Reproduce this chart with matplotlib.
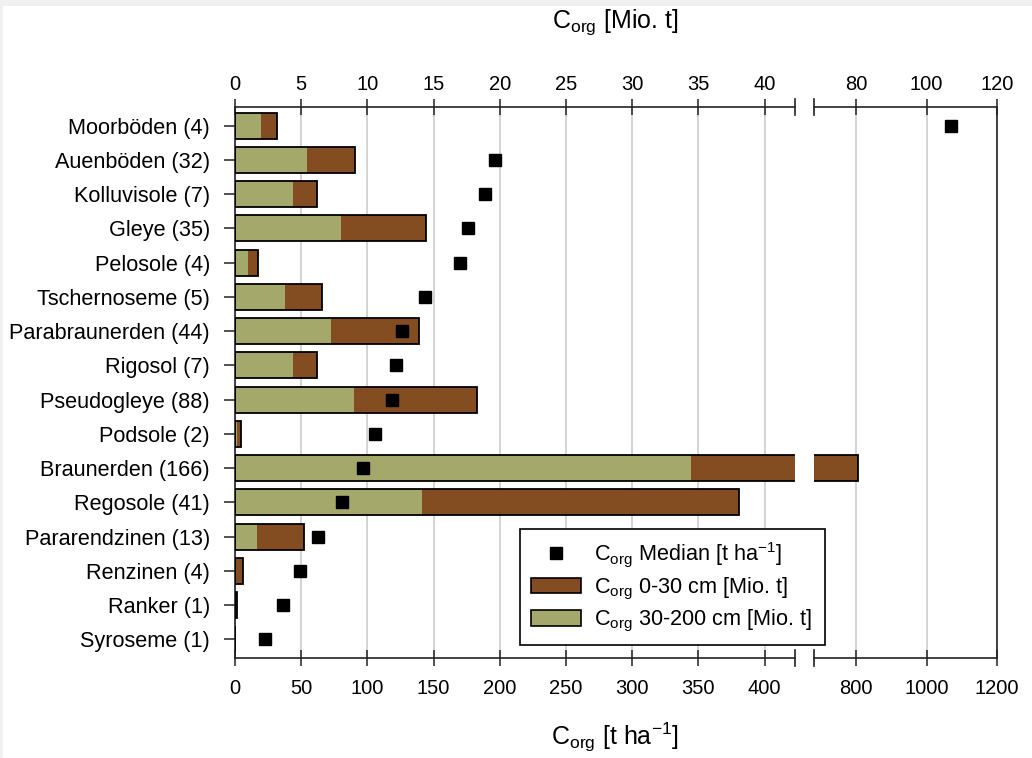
import matplotlib
matplotlib.use("Agg")
import matplotlib.pyplot as plt
from matplotlib.patches import Patch, Rectangle
from matplotlib.lines import Line2D

plt.rcParams['font.family'] = ['Liberation Sans', 'DejaVu Sans']

categories = ['Moorböden (4)', 'Auenböden (32)', 'Kolluvisole (7)', 'Gleye (35)',
              'Pelosole (4)', 'Tschernoseme (5)', 'Parabraunerden (44)', 'Rigosol (7)',
              'Pseudogleye (88)', 'Podsole (2)', 'Braunerden (166)', 'Regosole (41)',
              'Pararendzinen (13)', 'Renzinen (4)', 'Ranker (1)', 'Syroseme (1)']
# C_org 30-200 cm [Mio. t]
c_30_200 = [1.94, 5.44, 4.36, 8.04, 0.96, 3.75, 7.28, 4.36, 8.99, 0.13,
            34.47, 14.1, 1.66, 0.05, 0.05, 0.0]
# C_org 0-30 cm [Mio. t]
c_0_30 = [1.23, 3.61, 1.86, 6.37, 0.75, 2.85, 6.62, 1.86, 9.31, 0.35,
          46.13, 24.0, 3.58, 0.55, 0.10, 0.0]
# C_org median [t/ha]
median = [1068, 196.5, 188.7, 176.1, 170, 143.6, 126.2, 121.4, 118.9, 105.6,
          97, 81.1, 62.7, 49.4, 36, 22.4]

top_ticks_left = [0, 5, 10, 15, 20, 25, 30, 35, 40]
top_ticks_right = [80, 100, 120]
bot_ticks_left = [0, 50, 100, 150, 200, 250, 300, 350, 400]
bot_ticks_right = [800, 1000, 1200]

GREEN = '#a4a86b'
BROWN = '#844c21'
SPINE = '#222222'
GRID = '#cccccc'
FS = 15.6
TFS = 14.5

W, H = 1032, 758
fig = plt.figure(figsize=(W / 100, H / 100), dpi=100, facecolor='#f0f0f0')
fig.patches.append(Rectangle((3 / W, 0), 1 - 3 / W, 1 - 6 / H, transform=fig.transFigure,
                             facecolor='white', edgecolor='none', zorder=-10))

x_left0, x_break1, x_break2, x_right1 = 235, 795, 814, 997
y_top, y_bot = 107, 658
bottom = 1 - y_bot / H
height = (y_bot - y_top) / H

axL = fig.add_axes([x_left0 / W, bottom, (x_break1 - x_left0) / W, height])
axR = fig.add_axes([x_break2 / W, bottom, (x_right1 - x_break2) / W, height])

ypos = list(range(len(categories)))
total = [g + b for g, b in zip(c_30_200, c_0_30)]
bh = 0.76

limsL = (0, 42.3)
limsR = (68, 120)

for ax, lims, tticks, bticks in [
        (axL, limsL, top_ticks_left, bot_ticks_left),
        (axR, limsR, top_ticks_right, bot_ticks_right)]:
    tw = ax.twiny()
    ax.set_facecolor('none')
    ax.barh(ypos, c_30_200, height=bh, color=GREEN, edgecolor='none', zorder=2)
    ax.barh(ypos, c_0_30, left=c_30_200, height=bh, color=BROWN, edgecolor='none', zorder=2)
    ax.barh(ypos, total, height=bh, fill=False, edgecolor='black', linewidth=1.3, zorder=3)
    ax.set_xlim(*lims)
    ax.set_ylim(len(categories) - 0.45, -0.55)
    ax.xaxis.set_ticks_position('top')
    ax.xaxis.set_label_position('top')
    ax.set_xticks(tticks)
    ax.set_xticklabels([str(t) for t in tticks], fontsize=TFS)
    ax.tick_params(axis='x', direction='inout', length=12, width=1.1, color=SPINE, pad=3)
    ax.grid(axis='x', color=GRID, linewidth=1.2, zorder=0)
    ax.set_axisbelow(True)
    for s in ax.spines.values():
        s.set_color(SPINE)
        s.set_linewidth(1.2)

    tw.set_facecolor('none')
    tw.plot(median, ypos, linestyle='none', marker='s', markersize=8.2,
            color='black', zorder=5)
    tw.set_xlim(lims[0] * 10, lims[1] * 10)
    tw.xaxis.set_ticks_position('bottom')
    tw.xaxis.set_label_position('bottom')
    tw.set_xticks(bticks)
    tw.set_xticklabels([str(t) for t in bticks], fontsize=TFS)
    tw.tick_params(axis='x', direction='inout', length=12, width=1.1, color=SPINE, pad=9)
    for s in tw.spines.values():
        s.set_visible(False)

# left part
axL.spines['right'].set_visible(False)
axL.set_yticks(ypos)
axL.set_yticklabels(categories, fontsize=FS)
axL.tick_params(axis='y', direction='out', length=8, width=1.1, color=SPINE, pad=10)
# right part
axR.spines['left'].set_visible(False)
axR.set_yticks([])

# break marks
d = 8 / (y_bot - y_top)
for ax, xb in [(axL, 1), (axR, 0)]:
    for yb in (0, 1):
        ax.plot([xb, xb], [yb - d, yb + d], transform=ax.transAxes, color=SPINE,
                linewidth=1.2, clip_on=False, zorder=10)

fig.text(615 / W, 1 - 22 / H, r'C$_\mathregular{org}$ [Mio. t]', ha='center', va='center',
         fontsize=18)
fig.text(615 / W, 1 - 737 / H, r'C$_\mathregular{org}$ [t ha$^\mathregular{-1}$]',
         ha='center', va='center', fontsize=18)

handles = [Line2D([], [], linestyle='none', marker='s', markersize=9, color='black'),
           Patch(facecolor=BROWN, edgecolor='black', linewidth=1.2),
           Patch(facecolor=GREEN, edgecolor='black', linewidth=1.2)]
labels = [r'C$_\mathregular{org}$ Median [t ha$^\mathregular{-1}$]',
          r'C$_\mathregular{org}$ 0-30 cm [Mio. t]',
          r'C$_\mathregular{org}$ 30-200 cm [Mio. t]']
leg = fig.legend(handles, labels, loc='lower left',
                 bbox_to_anchor=(520 / W, 1 - 645 / H, (825 - 520) / W, (645 - 530) / H),
                 mode='expand', fontsize=FS, frameon=True, fancybox=False, framealpha=1,
                 edgecolor='black', handlelength=2.3, handleheight=0.7, labelspacing=0.3,
                 borderaxespad=0, borderpad=0.5, handletextpad=0.6)
leg.get_frame().set_linewidth(1.2)
leg.set_zorder(20)

fig.savefig('out.png', dpi=100, facecolor=fig.get_facecolor())
